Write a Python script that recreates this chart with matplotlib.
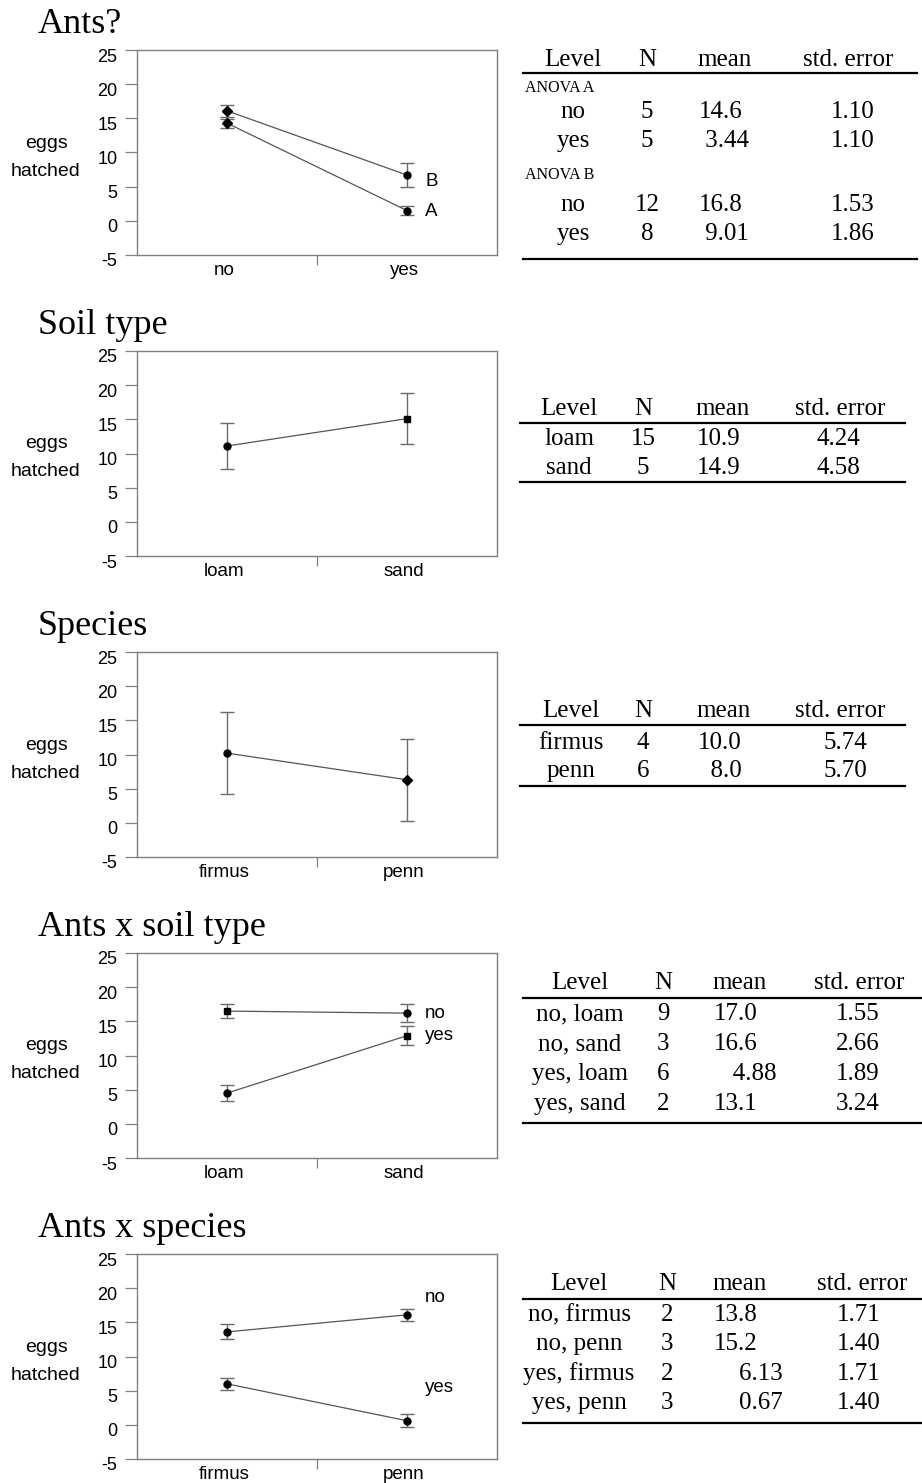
import matplotlib.pyplot as plt
import matplotlib.transforms as mtransforms
from matplotlib.lines import Line2D

W, H = 922, 1483
SERIF = ["Liberation Serif", "DejaVu Serif"]
plt.rcParams["font.family"] = ["Liberation Sans", "DejaVu Sans"]
plt.rcParams["axes.unicode_minus"] = False

# ---- panel data ----
ants_levels = ["no", "yes"]
ants_b_mean = [16.1, 6.7]
ants_b_err = [0.9, 1.7]
ants_a_mean = [14.3, 1.5]
ants_a_err = [0.65, 0.6]

soil_levels = ["loam", "sand"]
soil_mean = [11.1, 15.1]
soil_err = [3.4, 3.7]

species_levels = ["firmus", "penn"]
species_mean = [10.2, 6.3]
species_err = [5.95, 6.0]

ants_soil_no_mean = [16.5, 16.2]
ants_soil_no_err = [1.05, 1.35]
ants_soil_yes_mean = [4.5, 12.9]
ants_soil_yes_err = [1.2, 1.4]

ants_species_no_mean = [13.6, 16.1]
ants_species_no_err = [1.1, 0.9]
ants_species_yes_mean = [6.0, 0.6]
ants_species_yes_err = [0.9, 0.95]

# ---- table data ----
table1_level = ["no", "yes", "no", "yes"]
table1_n = ["5", "5", "12", "8"]
table1_mean = ["14.6", " 3.44", "16.8", " 9.01"]
table1_se = ["1.10", "1.10", "1.53", "1.86"]

table2_level = ["loam", "sand"]
table2_n = ["15", "5"]
table2_mean = ["10.9", "14.9"]
table2_se = ["4.24", "4.58"]

table3_level = ["firmus", "penn"]
table3_n = ["4", "6"]
table3_mean = ["10.0", "  8.0"]
table3_se = ["5.74", "5.70"]

table4_level = ["no, loam", "no, sand", "yes, loam", "yes, sand"]
table4_n = ["9", "3", "6", "2"]
table4_mean = ["17.0", "16.6", "   4.88", "13.1"]
table4_se = ["1.55", "2.66", "1.89", "3.24"]

table5_level = ["no, firmus", "no, penn", "yes, firmus", "yes, penn"]
table5_n = ["2", "3", "2", "3"]
table5_mean = ["13.8", "15.2", "    6.13", "    0.67"]
table5_se = ["1.71", "1.40", "1.71", "1.40"]

fig = plt.figure(figsize=(W / 100, H / 100), dpi=100)
page = fig.add_axes([0, 0, 1, 1])
page.set_xlim(0, W)
page.set_ylim(H, 0)
page.axis("off")


def make_panel(top, title, levels, series, labels):
    ax = fig.add_axes([137 / W, 1 - (top + 205) / H, 360 / W, 205 / H])
    x = [0, 1]
    for means, errs, marks in series:
        ax.plot(x, means, color="#555555", lw=0.9, zorder=2)
        for xi, m, e, mk in zip(x, means, errs, marks):
            ax.errorbar(xi, m, yerr=e, fmt=mk, color="black",
                        ms=5 if mk != "D" else 5.5,
                        ecolor="#6a6a6a", elinewidth=1, capsize=4.7,
                        capthick=1, zorder=3)
    for lx, ly, txt in labels:
        ax.text(lx, ly, txt, fontsize=13.5, va="center", ha="left")

    ax.set_xlim(-0.5, 1.5)
    ax.set_ylim(-5, 25)
    ax.set_yticks(range(-5, 30, 5))
    ax.set_xticks(x)
    ax.set_xticklabels(levels)
    ax.set_xticks([0.5], minor=True)
    for s in ax.spines.values():
        s.set_color("#808080")
        s.set_linewidth(1)
    ax.tick_params(axis="y", direction="out", length=8.5, width=0.9,
                   color="#808080", labelsize=13, pad=5.5)
    ax.tick_params(axis="x", which="major", length=0, labelsize=13.5, pad=5)
    ax.tick_params(axis="x", which="minor", direction="out", length=7.5,
                   width=0.9, color="#808080")
    shift = mtransforms.ScaledTranslation(0, -5 / 100, fig.dpi_scale_trans)
    for lbl in ax.get_yticklabels():
        lbl.set_transform(lbl.get_transform() + shift)
    shift_x = mtransforms.ScaledTranslation(-3 / 100, 0, fig.dpi_scale_trans)
    for lbl in ax.get_xticklabels():
        lbl.set_transform(lbl.get_transform() + shift_x)

    page.text(38, top - 17, title, family=SERIF, fontsize=26, va="baseline")
    page.text(46, top + 93, "eggs", fontsize=14, ha="center", va="center")
    page.text(45, top + 121, "hatched", fontsize=14, ha="center", va="center")
    return ax


def rule(x0, x1, y):
    page.add_line(Line2D([x0, x1], [y, y], color="black", lw=1.6))


def make_table(cols, header_y, rule_top, rule_bottom, x_range, row_ys,
               level, n, mean, se):
    lvl_x, n_x, mean_x, se_head_x, se_x = cols
    kw = dict(family=SERIF, fontsize=18, va="baseline")
    page.text(lvl_x, header_y, "Level", ha="center", **kw)
    page.text(n_x, header_y, "N", ha="center", **kw)
    page.text(mean_x + 26, header_y, "mean", ha="center", **kw)
    page.text(se_head_x, header_y, "std. error", ha="center", **kw)
    rule(x_range[0], x_range[1], rule_top)
    for y, a, b, c, d in zip(row_ys, level, n, mean, se):
        page.text(lvl_x, y, a, ha="center", **kw)
        page.text(n_x, y, b, ha="center", **kw)
        page.text(mean_x, y, c, ha="left", **kw)
        page.text(se_x, y, d, ha="center", **kw)
    rule(x_range[0], x_range[1], rule_bottom)


tops = [50, 351, 652, 953, 1254]

make_panel(tops[0], "Ants?", ants_levels,
           [(ants_b_mean, ants_b_err, ["D", "o"]),
            (ants_a_mean, ants_a_err, ["D", "o"])],
           [(1.1, 5.8, "B"), (1.1, 1.4, "A")])
make_panel(tops[1], "Soil type", soil_levels,
           [(soil_mean, soil_err, ["o", "s"])], [])
make_panel(tops[2], "Species", species_levels,
           [(species_mean, species_err, ["o", "D"])], [])
make_panel(tops[3], "Ants x soil type", soil_levels,
           [(ants_soil_no_mean, ants_soil_no_err, ["s", "o"]),
            (ants_soil_yes_mean, ants_soil_yes_err, ["o", "s"])],
           [(1.1, 16.1, "no"), (1.1, 12.9, "yes")])
make_panel(tops[4], "Ants x species", species_levels,
           [(ants_species_no_mean, ants_species_no_err, ["o", "o"]),
            (ants_species_yes_mean, ants_species_yes_err, ["o", "o"])],
           [(1.1, 18.6, "no"), (1.1, 5.4, "yes")])

make_table((573, 647, 699, 848, 853), 66, 73, 259, (523, 917),
           [118, 147, 211, 240], table1_level, table1_n, table1_mean, table1_se)
page.text(525, 92, "ANOVA A", family=SERIF, fontsize=11.5, va="baseline")
page.text(525, 179, "ANOVA B", family=SERIF, fontsize=11.5, va="baseline")

make_table((569, 643, 697, 840, 838), 415, 423, 482, (520, 905),
           [445, 474], table2_level, table2_n, table2_mean, table2_se)
make_table((571, 643, 698, 840, 845), 717, 725, 786, (520, 905),
           [749, 777], table3_level, table3_n, table3_mean, table3_se)
make_table((580, 663, 714, 859, 858), 989, 998, 1123, (523, 922),
           [1020, 1050, 1080, 1110], table4_level, table4_n, table4_mean,
           table4_se)
make_table((579, 667, 714, 862, 859), 1290, 1299, 1423, (523, 922),
           [1321, 1350, 1380, 1409], table5_level, table5_n, table5_mean,
           table5_se)

fig.savefig("out.png", dpi=100)
